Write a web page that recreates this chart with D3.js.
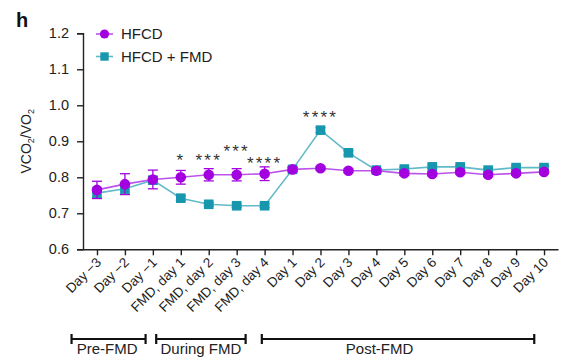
<!DOCTYPE html>
<html>
<head>
<meta charset="utf-8">
<script src="https://cdn.jsdelivr.net/npm/d3@7/dist/d3.min.js"></script>
<style>
  html, body { margin: 0; padding: 0; background: #fff; }
  svg { display: block; font-family: "Liberation Sans", Arial, sans-serif; }
</style>
</head>
<body>
<svg id="chart" width="563" height="363"></svg>
<script>
// Time points (categories on the x axis)
const days = ["Day \u22123", "Day \u22122", "Day \u22121",
  "FMD, day 1", "FMD, day 2", "FMD, day 3", "FMD, day 4",
  "Day 1", "Day 2", "Day 3", "Day 4", "Day 5", "Day 6", "Day 7", "Day 8", "Day 9", "Day 10"];

// Respiratory exchange ratio, mean and SEM
const hfcd = [0.765, 0.781, 0.794, 0.800, 0.807, 0.807, 0.810,
  0.822, 0.825, 0.818, 0.818, 0.811, 0.809, 0.814, 0.807, 0.811, 0.815];
const hfcdErr = [0.024, 0.029, 0.026, 0.019, 0.017, 0.017, 0.019,
  0.006, 0.005, 0.005, 0.005, 0.006, 0.005, 0.005, 0.005, 0.005, 0.005];
const hfcdFmd = [0.756, 0.768, 0.792, 0.742, 0.725, 0.721, 0.721,
  0.822, 0.931, 0.868, 0.820, 0.823, 0.829, 0.829, 0.820, 0.827, 0.827];
const hfcdFmdErr = [0.014, 0.014, 0.010, 0.006, 0.005, 0.005, 0.005,
  0.006, 0.007, 0.006, 0.005, 0.005, 0.005, 0.005, 0.005, 0.005, 0.005];

// Significance marks: day, label, height (data units) of the mark's centre
const sigMarks = [
  { day: "FMD, day 1", label: "*", level: 0.856 },
  { day: "FMD, day 2", label: "***", level: 0.856 },
  { day: "FMD, day 3", label: "***", level: 0.881 },
  { day: "FMD, day 4", label: "****", level: 0.850 },
  { day: "Day 2", label: "****", level: 0.978 }
];

const yTicks = [0.6, 0.7, 0.8, 0.9, 1.0, 1.1, 1.2];

// Phase brackets below the axis
const phases = [
  { name: "Pre-FMD", from: "Day \u22123", to: "Day \u22121" },
  { name: "During FMD", from: "FMD, day 1", to: "FMD, day 4" },
  { name: "Post-FMD", from: "Day 1", to: "Day 10" }
];
// Bracket ends relative to the first / last category, in category steps
const bracketInset = [
  { start: -0.91, end: -0.26, labelShift: -0.05 },
  { start: -0.88, end: -0.68, labelShift: 0 },
  { start: -1.1, end: -0.35, labelShift: -0.66 }
];

const purple = "#a300e0";
const teal = "#1697ad";
const tealLine = "#62b9c8";
const purpleLine = "#bb52ea";

const svg = d3.select("#chart");
const plotLeft = 83, plotRight = 558, plotTop = 33.3, plotBottom = 249.3;

const x = d3.scalePoint().domain(days).range([plotLeft, plotRight]).padding(0.5);
const y = d3.scaleLinear().domain([0.6, 1.2]).range([plotBottom, plotTop]);
const step = x.step();

// Panel letter
svg.append("text").attr("x", 16).attr("y", 27)
  .attr("font-size", 20).attr("font-weight", "bold").attr("fill", "#111").text("h");

// Y axis
const yAxis = svg.append("g").attr("transform", `translate(${plotLeft},0)`)
  .call(d3.axisLeft(y).tickValues(yTicks).tickFormat(d3.format(".1f")).tickSize(6).tickPadding(8));
yAxis.select(".domain").attr("stroke", "#222").attr("stroke-width", 1.4);
yAxis.selectAll(".tick line").attr("stroke", "#222").attr("stroke-width", 1.4);
yAxis.selectAll(".tick text").attr("font-size", 14.5).attr("fill", "#222")
  .attr("font-family", "Liberation Sans, Arial, sans-serif");

// X axis
const xAxis = svg.append("g").attr("transform", `translate(0,${plotBottom})`)
  .call(d3.axisBottom(x).tickSize(6).tickSizeOuter(0).tickFormat(() => ""));
xAxis.select(".domain").attr("stroke", "#222").attr("stroke-width", 1.4);
xAxis.selectAll(".tick line").attr("stroke", "#222").attr("stroke-width", 1.4);

// Rotated category labels
svg.append("g").selectAll("text").data(days).join("text")
  .attr("transform", d => `translate(${x(d) + 5},${plotBottom + 14}) rotate(-45)`)
  .attr("text-anchor", "end")
  .attr("font-size", 13.5).attr("fill", "#222")
  .text(d => d);

// Y axis title: VCO2/VO2 with subscripts
const yt = svg.append("text")
  .attr("transform", `translate(31,${(plotTop + plotBottom) / 2}) rotate(-90)`)
  .attr("text-anchor", "middle").attr("font-size", 14).attr("fill", "#222");
yt.append("tspan").text("VCO");
yt.append("tspan").attr("font-size", 9).attr("dy", 3).text("2");
yt.append("tspan").attr("dy", -3).text("/VO");
yt.append("tspan").attr("font-size", 9).attr("dy", 3).text("2");

function drawSeries(vals, errs, color, lineColor, shape) {
  const g = svg.append("g");
  const pts = days.map((d, i) => ({ d, v: vals[i], e: errs[i] }));
  g.append("path").datum(pts)
    .attr("fill", "none").attr("stroke", lineColor).attr("stroke-width", 1.6)
    .attr("d", d3.line().x(p => x(p.d)).y(p => y(p.v)));
  // error bars
  const eb = g.selectAll("g.err").data(pts).join("g").attr("class", "err");
  eb.append("line")
    .attr("x1", p => x(p.d)).attr("x2", p => x(p.d))
    .attr("y1", p => y(p.v - p.e)).attr("y2", p => y(p.v + p.e))
    .attr("stroke", color).attr("stroke-width", 1.3);
  [1, -1].forEach(s => {
    eb.append("line")
      .attr("x1", p => x(p.d) - 5).attr("x2", p => x(p.d) + 5)
      .attr("y1", p => y(p.v + s * p.e)).attr("y2", p => y(p.v + s * p.e))
      .attr("stroke", color).attr("stroke-width", 1.3);
  });
  if (shape === "circle") {
    g.selectAll("circle").data(pts).join("circle")
      .attr("cx", p => x(p.d)).attr("cy", p => y(p.v)).attr("r", 5.3).attr("fill", color);
  } else {
    g.selectAll("rect").data(pts).join("rect")
      .attr("x", p => x(p.d) - 4.8).attr("y", p => y(p.v) - 4.8)
      .attr("width", 9.6).attr("height", 9.6).attr("fill", color);
  }
}

drawSeries(hfcdFmd, hfcdFmdErr, teal, tealLine, "square");
drawSeries(hfcd, hfcdErr, purple, purpleLine, "circle");

// Significance asterisks
svg.append("g").selectAll("text").data(sigMarks).join("text")
  .attr("x", d => x(d.day)).attr("y", d => y(d.level))
  .attr("dy", "0.55em")
  .attr("text-anchor", "middle").attr("font-size", 17).attr("fill", "#333")
  .attr("letter-spacing", 2.2)
  .text(d => d.label);

// Legend
const legend = [
  { name: "HFCD", color: purple, line: purpleLine, shape: "circle" },
  { name: "HFCD + FMD", color: teal, line: tealLine, shape: "square" }
];
const lg = svg.append("g").selectAll("g").data(legend).join("g")
  .attr("transform", (d, i) => `translate(96,${34 + i * 22.5})`);
lg.append("line").attr("x1", 0).attr("x2", 17).attr("stroke", d => d.line).attr("stroke-width", 1.6);
lg.filter(d => d.shape === "circle").append("circle").attr("cx", 8.5).attr("r", 4.6).attr("fill", d => d.color);
lg.filter(d => d.shape === "square").append("rect").attr("x", 4.3).attr("y", -4.2)
  .attr("width", 8.4).attr("height", 8.4).attr("fill", d => d.color);
lg.append("text").attr("x", 25).attr("dy", "0.36em").attr("font-size", 15).attr("fill", "#222")
  .text(d => d.name);

// Phase brackets
const bracketY = 339;
const pg = svg.append("g").selectAll("g").data(phases).join("g");
const bx1 = (d, i) => x(d.from) + bracketInset[i].start * step;
const bx2 = (d, i) => x(d.to) + bracketInset[i].end * step;
pg.append("line")
  .attr("x1", bx1).attr("x2", bx2)
  .attr("y1", bracketY).attr("y2", bracketY)
  .attr("stroke", "#111").attr("stroke-width", 2.2);
pg.append("line").attr("x1", bx1).attr("x2", bx1)
  .attr("y1", bracketY - 5).attr("y2", bracketY + 5).attr("stroke", "#111").attr("stroke-width", 2.2);
pg.append("line").attr("x1", bx2).attr("x2", bx2)
  .attr("y1", bracketY - 5).attr("y2", bracketY + 5).attr("stroke", "#111").attr("stroke-width", 2.2);
pg.append("text")
  .attr("x", (d, i) => (bx1(d, i) + bx2(d, i)) / 2 + bracketInset[i].labelShift * step)
  .attr("y", 354).attr("text-anchor", "middle").attr("font-size", 15).attr("fill", "#222")
  .text(d => d.name);
</script>
</body>
</html>
